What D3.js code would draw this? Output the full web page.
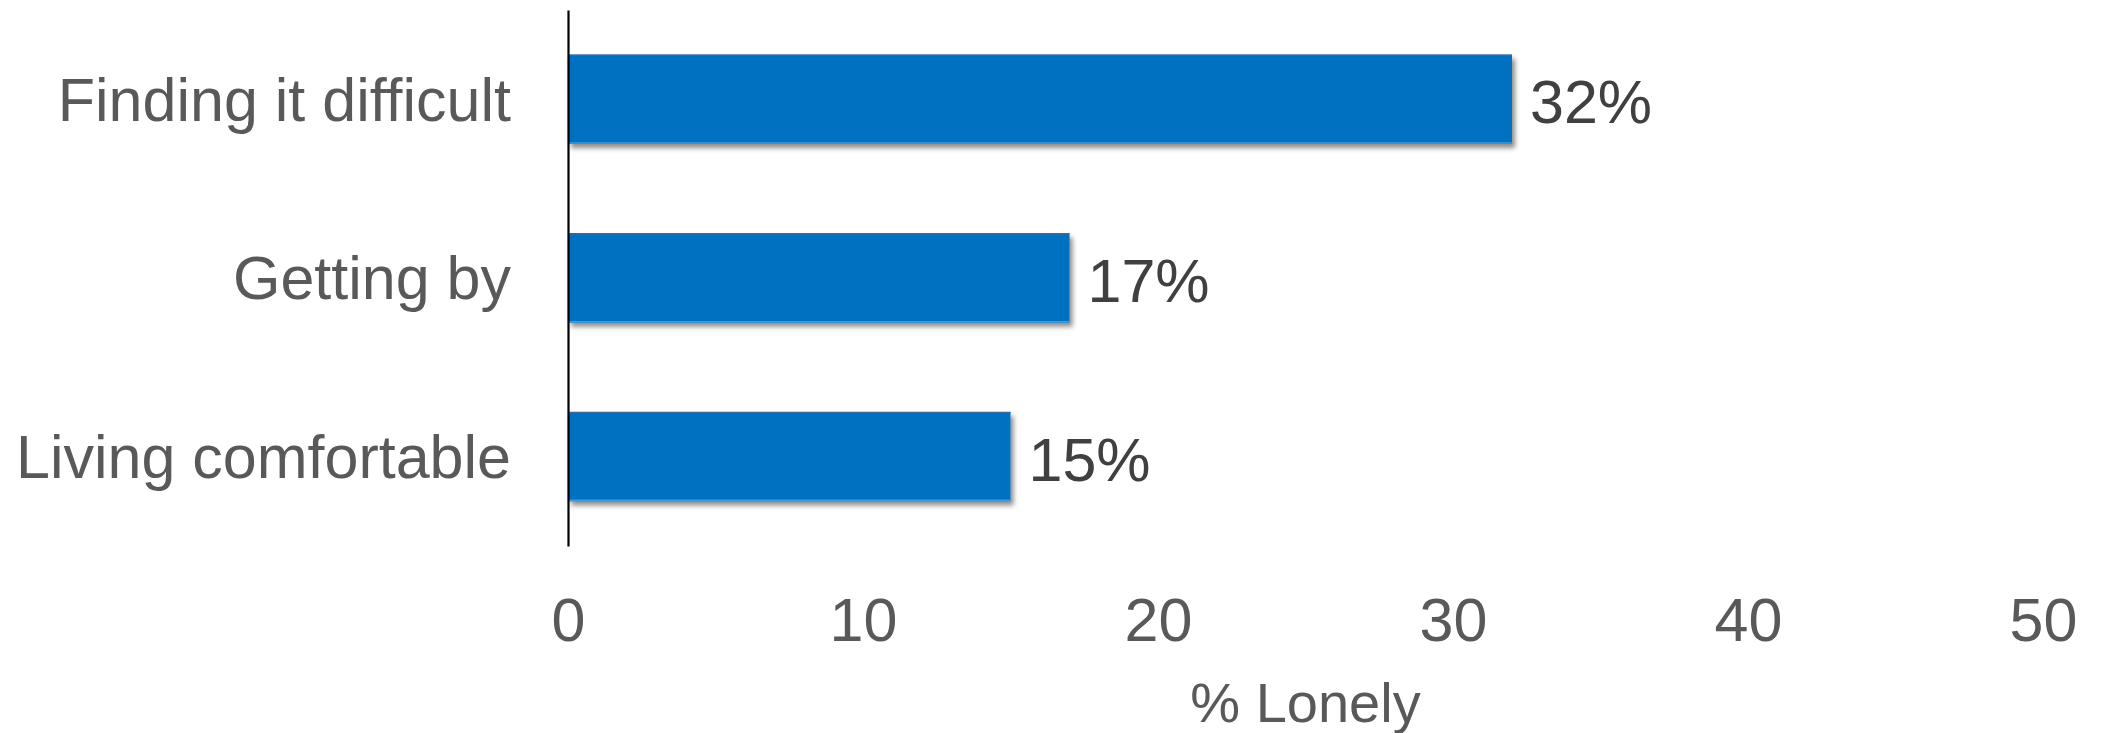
<!DOCTYPE html>
<html>
<head>
<meta charset="utf-8">
<script src="https://cdn.jsdelivr.net/npm/d3@7"></script>
<style>
  html, body { margin: 0; padding: 0; background: #fff; }
  svg { display: block; }
  text { font-family: "Liberation Sans", Arial, sans-serif; }
</style>
</head>
<body>
<svg id="chart" width="2102" height="733"></svg>
<script>
// Share of people who feel lonely, by how they manage on their income
const categories = ["Finding it difficult", "Getting by", "Living comfortable"];
const values = [32, 17, 15];
const xTicks = [0, 10, 20, 30, 40, 50];
const xTitle = "% Lonely";

const svg = d3.select("#chart");
const W = 2102, H = 733;

const x = d3.scaleLinear().domain([0, 50]).range([568, 2043]);
const y = d3.scaleBand().domain(categories).range([10, 546])
  .paddingInner(0.5).paddingOuter(0.25);

// soft drop shadow under each bar
const defs = svg.append("defs");
const f = defs.append("filter").attr("id", "shadow")
  .attr("x", "-5%").attr("y", "-20%").attr("width", "115%").attr("height", "150%");
f.append("feDropShadow").attr("dx", 3).attr("dy", 4).attr("stdDeviation", 2.5)
  .attr("flood-color", "#000").attr("flood-opacity", 0.45);

// bars
const bars = svg.append("g");
bars.selectAll("rect.bar").data(categories).join("rect")
  .attr("class", "bar")
  .attr("x", x(0))
  .attr("y", d => y(d))
  .attr("width", (d, i) => x(values[i]) - x(0))
  .attr("height", y.bandwidth())
  .attr("fill", "#0070C0")
  .attr("filter", "url(#shadow)");

// bevel edges: darker top, lighter bottom
bars.selectAll("line.top").data(categories).join("line")
  .attr("class", "top")
  .attr("x1", x(0)).attr("x2", (d, i) => x(values[i]))
  .attr("y1", d => y(d) + 0.5).attr("y2", d => y(d) + 0.5)
  .attr("stroke", "#40678f").attr("stroke-width", 1.5);
bars.selectAll("line.bottom").data(categories).join("line")
  .attr("class", "bottom")
  .attr("x1", x(0)).attr("x2", (d, i) => x(values[i]))
  .attr("y1", d => y(d) + y.bandwidth() - 1).attr("y2", d => y(d) + y.bandwidth() - 1)
  .attr("stroke", "#3d9de0").attr("stroke-width", 1.5);

// value labels
svg.append("g").selectAll("text").data(categories).join("text")
  .attr("x", (d, i) => x(values[i]) + 18)
  .attr("y", d => y(d) + y.bandwidth() / 2 + 24)
  .attr("font-size", 61)
  .attr("fill", "#404040")
  .text((d, i) => values[i] + "%");

// category axis
const yAxis = svg.append("g")
  .attr("transform", `translate(${x(0)},0)`)
  .call(d3.axisLeft(y).tickSize(0).tickPadding(57));
yAxis.select(".domain").attr("stroke", "#000").attr("stroke-width", 2.2);
yAxis.selectAll(".tick text")
  .attr("font-size", 61)
  .attr("fill", "#595959")
  .attr("dy", "0.35em")
  .style("font-family", "'Liberation Sans', Arial, sans-serif");

// value axis (labels only)
const xAxis = svg.append("g")
  .attr("transform", "translate(0,598)")
  .call(d3.axisBottom(x).tickValues(xTicks).tickSize(0).tickPadding(0));
xAxis.select(".domain").remove();
xAxis.selectAll(".tick text")
  .attr("font-size", 61)
  .attr("fill", "#595959")
  .attr("dy", "0.71em")
  .style("font-family", "'Liberation Sans', Arial, sans-serif");

// axis title
svg.append("text")
  .attr("x", (x(0) + x(50)) / 2)
  .attr("y", 722)
  .attr("text-anchor", "middle")
  .attr("font-size", 56)
  .attr("fill", "#595959")
  .text(xTitle);
</script>
</body>
</html>
